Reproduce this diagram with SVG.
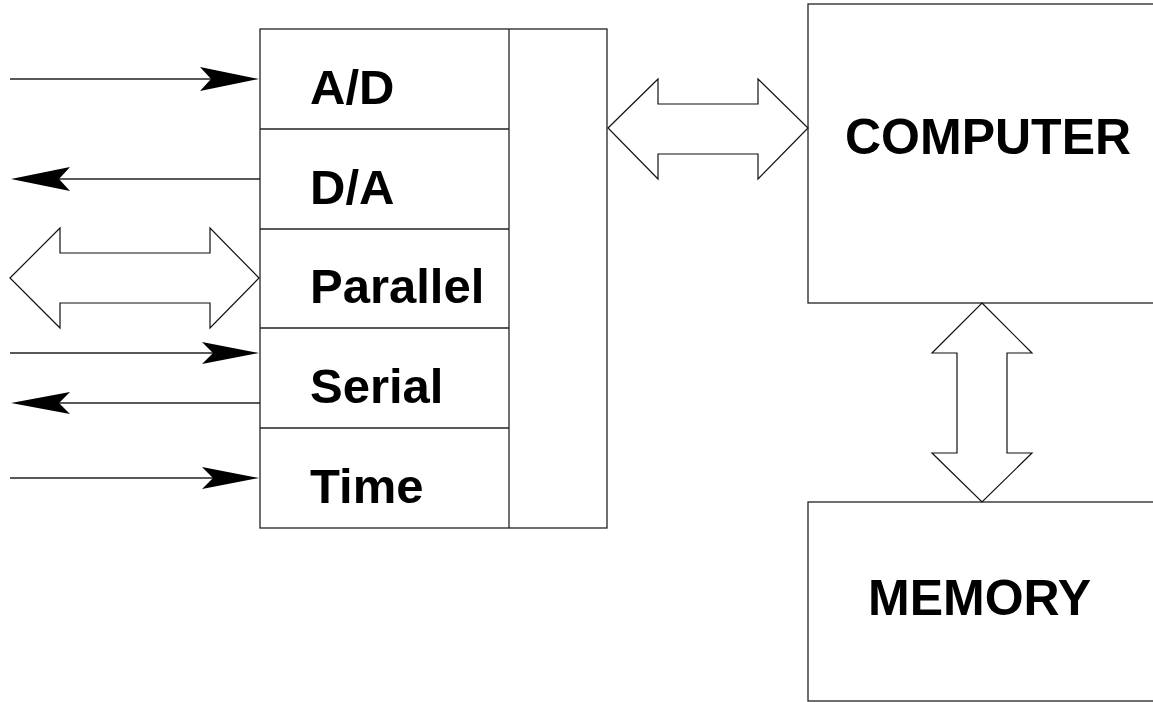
<svg xmlns="http://www.w3.org/2000/svg" width="1153" height="702" viewBox="0 0 1153 702">
  <style>
    .box { fill: #ffffff; stroke: #222222; stroke-width: 1.3; }
    .ln { fill: none; stroke: #222222; stroke-width: 1.3; }
    .fat { fill: #ffffff; stroke: #111111; stroke-width: 1.2; stroke-linejoin: miter; }
    .head { fill: #000000; stroke: none; }
    .lbl { font-family: "Liberation Sans", Arial, Helvetica, sans-serif; font-weight: bold; font-size: 49px; fill: #000000; }
    .big { font-family: "Liberation Sans", Arial, Helvetica, sans-serif; font-weight: bold; font-size: 50px; fill: #000000; }
  </style>
  <rect width="1153" height="702" fill="#ffffff"/>

  <g id="io">
    <rect class="box" x="260" y="29" width="347" height="499"/>
    <line class="ln" x1="509" y1="29" x2="509" y2="528"/>
    <line class="ln" x1="260" y1="129" x2="509" y2="129"/>
    <line class="ln" x1="260" y1="229" x2="509" y2="229"/>
    <line class="ln" x1="260" y1="328" x2="509" y2="328"/>
    <line class="ln" x1="260" y1="428" x2="509" y2="428"/>
    <text class="lbl" x="310" y="104">A/D</text>
    <text class="lbl" x="310" y="204">D/A</text>
    <text class="lbl" x="310" y="303">Parallel</text>
    <text class="lbl" x="310" y="403">Serial</text>
    <text class="lbl" x="310" y="503">Time</text>
  </g>

  <g id="computer">
    <rect class="box" x="808" y="4" width="400" height="299"/>
    <text class="big" x="845" y="154">COMPUTER</text>
  </g>

  <g id="memory">
    <rect class="box" x="808" y="502" width="400" height="199"/>
    <text class="big" x="868" y="615">MEMORY</text>
  </g>

  <g id="connectors">
    <!-- A/D in -->
    <line class="ln" x1="10" y1="79" x2="212" y2="79"/>
    <polygon class="head" points="259,79 200,67 211,79 200,91"/>
    <!-- D/A out -->
    <line class="ln" x1="260" y1="179" x2="58" y2="179"/>
    <polygon class="head" points="11,179 70,167 59,179 70,191"/>
    <!-- Parallel bidirectional -->
    <polygon class="fat" points="10,278 60,228 60,253 210,253 210,228 259,278 210,328 210,303 60,303 60,328"/>
    <!-- Serial in -->
    <line class="ln" x1="10" y1="353" x2="214" y2="353"/>
    <polygon class="head" points="259,353 202,342 213,353 202,364"/>
    <!-- Serial out -->
    <line class="ln" x1="260" y1="403" x2="58" y2="403"/>
    <polygon class="head" points="11,403 70,392 59,403 70,414"/>
    <!-- Time in -->
    <line class="ln" x1="10" y1="478" x2="214" y2="478"/>
    <polygon class="head" points="259,478 202,467 213,478 202,489"/>
    <!-- IO <-> computer bus -->
    <polygon class="fat" points="608,128 658,79 658,104 758,104 758,79 808,128 758,179 758,154 658,154 658,179"/>
    <!-- computer <-> memory bus -->
    <polygon class="fat" points="982,303 1032,353 1007,353 1007,453 1032,453 982,502 932,453 957,453 957,353 932,353"/>
  </g>
</svg>
